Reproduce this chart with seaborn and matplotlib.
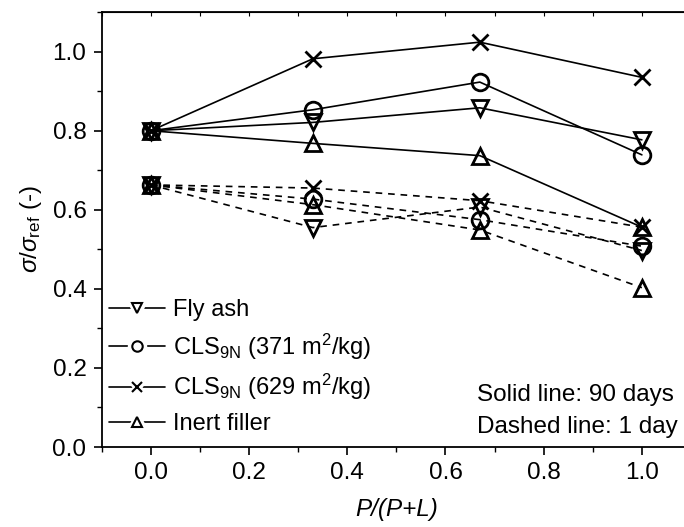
import matplotlib
matplotlib.use("Agg")
import matplotlib.pyplot as plt
import seaborn as sns
import pandas as pd
from matplotlib.ticker import MultipleLocator
from matplotlib.legend_handler import HandlerTuple

# P/(P+L) replacement levels
ratio = [0.0, 0.33, 0.67, 1.0]

# relative strength, 90 days (solid)
fly_ash_90 = [0.80, 0.821, 0.858, 0.777]
cls371_90 = [0.80, 0.853, 0.923, 0.739]
cls629_90 = [0.80, 0.982, 1.024, 0.935]
inert_90 = [0.80, 0.768, 0.737, 0.556]

# relative strength, 1 day (dashed)
fly_ash_1 = [0.663, 0.555, 0.607, 0.497]
cls371_1 = [0.663, 0.627, 0.575, 0.508]
cls629_1 = [0.663, 0.655, 0.623, 0.556]
inert_1 = [0.663, 0.613, 0.549, 0.403]

labels = ["Fly ash", r"CLS$_{\mathregular{9N}}$ (371 m$^{\mathregular{2}}$/kg)",
          r"CLS$_{\mathregular{9N}}$ (629 m$^{\mathregular{2}}$/kg)", "Inert filler"]
markers = ["v", "o", "x", "^"]

sns.set_style("ticks")
plt.rcParams["font.family"] = ["Liberation Sans", "DejaVu Sans"]
plt.rcParams["mathtext.fontset"] = "custom"
plt.rcParams["mathtext.rm"] = "Liberation Sans"
plt.rcParams["mathtext.it"] = "Liberation Sans:italic"
for k in ["text.color", "axes.labelcolor", "xtick.color", "ytick.color", "axes.edgecolor"]:
    plt.rcParams[k] = "black"

fig = plt.figure(figsize=(6.84, 5.27), dpi=100)
ax = fig.add_axes([0.1487, 0.1518, 0.8615, 0.8252])

series = [
    (fly_ash_90, fly_ash_1),
    (cls371_90, cls371_1),
    (cls629_90, cls629_1),
    (inert_90, inert_1),
]

handles = []
for (v90, v1), lab, m in zip(series, labels, markers):
    df90 = pd.DataFrame({"x": ratio, "y": v90})
    df1 = pd.DataFrame({"x": ratio, "y": v1})
    sns.lineplot(data=df1, x="x", y="y", ax=ax, color="black", linestyle=(0, (4, 3.5)),
                 linewidth=1.2, marker=m, markersize=12, markerfacecolor="none",
                 markeredgecolor="black", markeredgewidth=2.0)
    sns.lineplot(data=df90, x="x", y="y", ax=ax, color="black", linestyle="-",
                 linewidth=1.2, marker=m, markersize=12, markerfacecolor="none",
                 markeredgecolor="black", markeredgewidth=2.0)
    # legend handle: line, white gap around marker, then marker outline
    ln, = ax.plot([], [], color="black", linewidth=1.2)
    gap, = ax.plot([], [], linestyle="none", marker=m, markersize=9,
                   markerfacecolor="white", markeredgecolor="white", markeredgewidth=5)
    mk, = ax.plot([], [], linestyle="none", marker=m, markersize=7.5, markerfacecolor="white",
                  markeredgecolor="black", markeredgewidth=1.5)
    handles.append((ln, gap, mk))

ax.set_xlim(-0.1, 1.1)
ax.set_ylim(0, 1.1)
ax.set_xticks([0.0, 0.2, 0.4, 0.6, 0.8, 1.0])
ax.set_yticks([0.0, 0.2, 0.4, 0.6, 0.8, 1.0])
ax.xaxis.set_minor_locator(MultipleLocator(0.1))
ax.yaxis.set_minor_locator(MultipleLocator(0.1))
ax.tick_params(which="major", direction="out", length=6, width=1.2, labelsize=17.5, pad=5)
ax.tick_params(which="minor", direction="out", length=3.5, width=1.0)
for s in ax.spines.values():
    s.set_linewidth(1.3)

top = ax.secondary_xaxis("top")
top.xaxis.set_major_locator(MultipleLocator(0.1))
top.tick_params(direction="in", length=3, width=0.8, labeltop=False)

ax.set_xlabel("P/(P+L)", fontsize=17.5, style="italic", labelpad=10)
ax.set_ylabel(r"$\it{\sigma}$/$\it{\sigma}_{\mathregular{ref}}$ (-)", fontsize=17.5, labelpad=6)

ax.legend(handles, labels, loc="lower left", bbox_to_anchor=(0.012, 0.028), frameon=False,
          fontsize=17, handlelength=2.4, handletextpad=0.3, labelspacing=0.44,
          borderpad=0, borderaxespad=0, handler_map={tuple: HandlerTuple(ndivide=1)})

ax.text(0.664, 0.132, "Solid line: 90 days", fontsize=17.5, va="center", ha="left")
ax.text(0.664, 0.05, "Dashed line: 1 day", fontsize=17.5, va="center", ha="left")

fig.savefig("out.png", dpi=100)
